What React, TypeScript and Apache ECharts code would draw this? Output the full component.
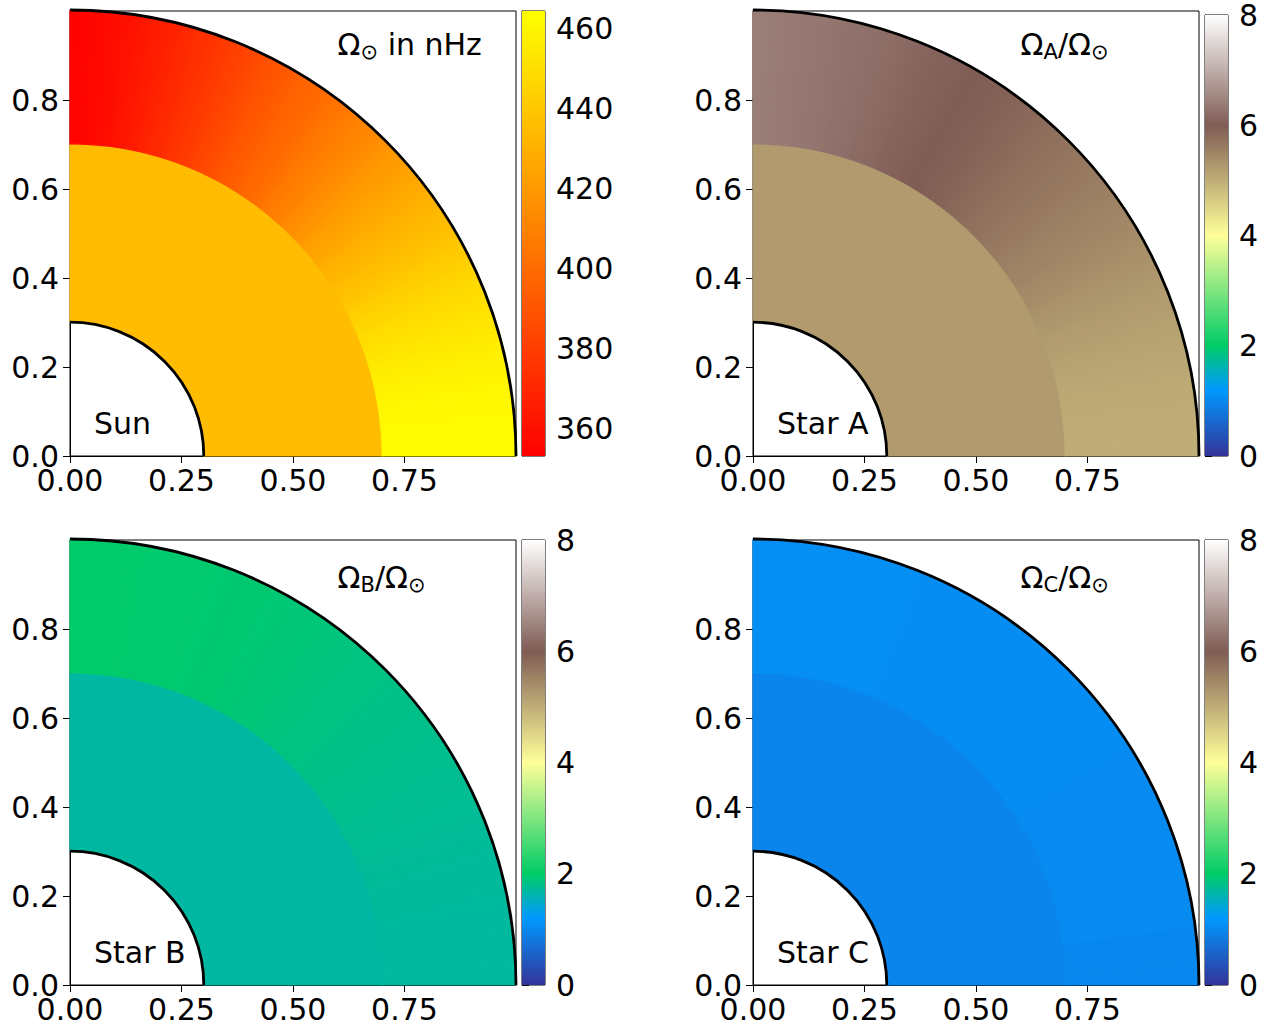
import React, { useEffect, useRef } from "react";
import * as echarts from "echarts";

// ---------- data ----------
const latitudes = [0, 5, 10, 15, 20, 25, 30, 35, 40, 45, 50, 55, 60, 65, 70, 75, 80, 85, 90];
const sunConvective = [463, 462, 460, 456, 451, 445, 438, 431, 424, 416, 408, 400, 393, 385, 377, 370, 363, 357, 354];
const starAConvective = [5.0, 5.02, 5.05, 5.12, 5.2, 5.3, 5.42, 5.52, 5.62, 5.72, 5.82, 5.92, 6.0, 6.08, 6.17, 6.25, 6.32, 6.38, 6.42];
const starBConvective = [1.7, 1.7, 1.71, 1.72, 1.74, 1.76, 1.78, 1.8, 1.82, 1.85, 1.87, 1.9, 1.92, 1.94, 1.95, 1.96, 1.97, 1.98, 1.98];
const starCConvective = [1.0, 1.0, 1.03, 1.03, 1.03, 1.03, 1.03, 1.06, 1.06, 1.06, 1.06, 1.06, 1.06, 1.06, 1.08, 1.08, 1.08, 1.08, 1.08];
const radiativeValues = [435, 5.24, 1.69, 0.96]; // Sun, A, B, C
const coreRadius = 0.3;
const tachoclineRadius = 0.7;
const surfaceRadius = 1.0;
const xTicks = [0, 0.25, 0.5, 0.75];
const yTicks = [0, 0.2, 0.4, 0.6, 0.8];
const sunBarTicks = [360, 380, 400, 420, 440, 460];
const starBarTicks = [0, 2, 4, 6, 8];
const sunRange = [353, 464.25];
const starRange = [0, 8];
const panelNames = ["Sun", "Star A", "Star B", "Star C"];

// ---------- colormaps ----------
type CmapDef = [number, number[]][];
const terrainDef: CmapDef = [
  [0.0, [0.2, 0.2, 0.6]],
  [0.15, [0.0, 0.6, 1.0]],
  [0.25, [0.0, 0.8, 0.4]],
  [0.5, [1.0, 1.0, 0.6]],
  [0.75, [0.5, 0.36, 0.33]],
  [1.0, [1.0, 1.0, 1.0]],
];
const autumnDef: CmapDef = [
  [0.0, [1, 0, 0]],
  [1.0, [1, 1, 0]],
];
function cmapAt(def: CmapDef, tRaw: number): string {
  const t = Math.max(0, Math.min(1, tRaw));
  let k = 0;
  while (k < def.length - 2 && t > def[k + 1][0]) k++;
  const [t0, c0] = def[k];
  const [t1, c1] = def[k + 1];
  const f = (t - t0) / (t1 - t0);
  const c = c0.map((v, j) => Math.round((v + (c1[j] - v) * f) * 255));
  return `rgb(${c[0]},${c[1]},${c[2]})`;
}
function sampleCmap(def: CmapDef, n: number): string[] {
  const out: string[] = [];
  for (let i = 0; i < n; i++) out.push(cmapAt(def, i / (n - 1)));
  return out;
}

const FONT = "DejaVu Sans";
const FS = 30;

const panelLayout = [
  { left: 70, top: 11, cbLeft: 522 },
  { left: 753, top: 11, cbLeft: 1205 },
  { left: 70, top: 540, cbLeft: 522 },
  { left: 753, top: 540, cbLeft: 1205 },
];
const smoothShading = [true, true, true, false];
const PW = 446;
const PH = 445;
const CBW = 23;

const titleTexts = [
  "{m|Ω}{s|⊙}{m| in nHz}",
  "{m|Ω}{s|A}{m|/Ω}{s|⊙}",
  "{m|Ω}{s|B}{m|/Ω}{s|⊙}",
  "{m|Ω}{s|C}{m|/Ω}{s|⊙}",
];
const richStyle = {
  m: { fontSize: FS, fontFamily: FONT, fontWeight: "normal", color: "#000", lineHeight: 36 },
  s: { fontSize: 21, fontFamily: FONT, fontWeight: "normal", color: "#000", lineHeight: 17, verticalAlign: "bottom" },
};

export default function App() {
  const ref = useRef<HTMLDivElement>(null);
  useEffect(() => {
    if (!ref.current) return;
    const chart = echarts.init(ref.current, null, { renderer: "svg" });
    const convective = [sunConvective, starAConvective, starBConvective, starCConvective];

    const grids: any[] = [];
    const xAxes: any[] = [];
    const yAxes: any[] = [];
    const series: any[] = [];
    const visualMaps: any[] = [];
    const titles: any[] = [];

    panelLayout.forEach((p, i) => {
      const isSun = i === 0;
      const range = isSun ? sunRange : starRange;
      const def = isSun ? autumnDef : terrainDef;
      const colors = sampleCmap(def, 81);
      const barTicks = isSun ? sunBarTicks : starBarTicks;
      const toColor = (v: number) => cmapAt(def, (v - range[0]) / (range[1] - range[0]));
      const gPanel = grids.length;
      grids.push({ left: p.left, top: p.top, width: PW, height: PH, show: true, borderColor: "#000", borderWidth: 1, backgroundColor: "transparent" });
      const gBar = grids.length;
      grids.push({ left: p.cbLeft, top: p.top, width: CBW, height: PH, show: true, borderColor: "#000", borderWidth: 1, backgroundColor: "transparent" });

      xAxes.push({
        gridIndex: gPanel, type: "value", min: 0, max: 1,
        axisLine: { show: true, lineStyle: { color: "#000", width: 1 } },
        axisTick: { show: true, length: 7, customValues: xTicks, lineStyle: { color: "#000", width: 1 } },
        axisLabel: { customValues: xTicks, formatter: (v: number) => v.toFixed(2), fontSize: FS, fontFamily: FONT, color: "#000", margin: 9 },
        splitLine: { show: false },
      });
      yAxes.push({
        gridIndex: gPanel, type: "value", min: 0, max: 1,
        axisLine: { show: true, lineStyle: { color: "#000", width: 1 } },
        axisTick: { show: true, length: 7, customValues: yTicks, lineStyle: { color: "#000", width: 1 } },
        axisLabel: { customValues: yTicks, formatter: (v: number) => v.toFixed(1), fontSize: FS, fontFamily: FONT, color: "#000", margin: 11 },
        splitLine: { show: false },
      });
      const xPanel = xAxes.length - 1;
      const yPanel = yAxes.length - 1;
      xAxes.push({ gridIndex: gBar, type: "value", min: 0, max: 1, show: false });
      yAxes.push({
        gridIndex: gBar, type: "value", min: range[0], max: range[1], position: "right",
        axisLine: { show: true, lineStyle: { color: "#000", width: 1 } },
        axisTick: { show: true, length: 7, customValues: barTicks, lineStyle: { color: "#000", width: 1 } },
        axisLabel: { customValues: barTicks, fontSize: FS, fontFamily: FONT, color: "#000", margin: 11 },
        splitLine: { show: false },
      });
      const xBar = xAxes.length - 1;
      const yBar = yAxes.length - 1;

      // zones data: [latLow, latHigh, rInner, rOuter, value, latCenter, valueAtLow, valueAtHigh]
      const vals = convective[i];
      const zoneData: number[][] = [[0, 90, coreRadius, tachoclineRadius, radiativeValues[i], 45, radiativeValues[i], radiativeValues[i]]];
      latitudes.forEach((lat, j) => {
        const lo = Math.max(0, lat - 2.5);
        const hi = Math.min(90, lat + 2.5);
        const vLo = smoothShading[i] && j > 0 ? (vals[j] + vals[j - 1]) / 2 : vals[j];
        const vHi = smoothShading[i] && j < vals.length - 1 ? (vals[j] + vals[j + 1]) / 2 : vals[j];
        zoneData.push([lo, hi, tachoclineRadius, surfaceRadius, vals[j], lat, vLo, vHi]);
      });
      const zoneIndex = series.length;
      series.push({
        type: "custom",
        xAxisIndex: xPanel,
        yAxisIndex: yPanel,
        data: zoneData,
        dimensions: ["a0", "a1", "r0", "r1", "v", "ac", "vlo", "vhi"],
        encode: { x: 2, y: 3 },
        renderItem: (params: any, api: any) => {
          const c = api.coord([0, 0]);
          const s = api.size([1, 1]);
          const color = api.visual("color");
          const lo = api.value(0);
          const hi = api.value(1);
          const a0 = (lo * Math.PI) / 180;
          const a1 = (hi * Math.PI) / 180;
          const r0 = api.value(2) * s[0];
          const r1 = api.value(3) * s[0];
          let fill: any = color;
          const vlo = api.value(6);
          const vhi = api.value(7);
          if (vlo !== api.value(4) || vhi !== api.value(4)) {
            const rm = (r0 + r1) / 2;
            const x0 = c[0] + rm * Math.cos(a0);
            const y0 = c[1] - rm * Math.sin(a0);
            const x1 = c[0] + rm * Math.cos(a1);
            const y1 = c[1] - rm * Math.sin(a1);
            const fc = (api.value(5) - lo) / (hi - lo);
            fill = new echarts.graphic.LinearGradient(
              x0, y0, x1, y1,
              [
                { offset: 0, color: toColor(vlo) },
                { offset: Math.max(0, Math.min(1, fc)), color },
                { offset: 1, color: toColor(vhi) },
              ],
              true
            );
          }
          return {
            type: "sector",
            shape: { cx: c[0], cy: c[1], r0, r: r1, startAngle: -a1, endAngle: -a0, clockwise: true },
            style: { fill, stroke: fill, lineWidth: 1.2 },
          };
        },
      });
      visualMaps.push({
        type: "continuous", show: false, min: range[0], max: range[1], dimension: 4,
        seriesIndex: zoneIndex, inRange: { color: colors },
      });
      // outline arcs
      series.push({
        type: "custom",
        xAxisIndex: xPanel,
        yAxisIndex: yPanel,
        data: [[coreRadius, 0], [surfaceRadius, 0]],
        z: 5,
        renderItem: (params: any, api: any) => {
          const c = api.coord([0, 0]);
          const s = api.size([1, 1]);
          return {
            type: "arc",
            shape: { cx: c[0], cy: c[1], r: api.value(0) * s[0], startAngle: -Math.PI / 2, endAngle: 0, clockwise: true },
            style: { stroke: "#000", fill: null, lineWidth: 2.8 },
          };
        },
      });
      // colorbar
      const stops = colors.map((col, k) => ({ offset: k / (colors.length - 1), color: col }));
      series.push({
        type: "custom",
        xAxisIndex: xBar,
        yAxisIndex: yBar,
        data: [[0, range[0], 1, range[1]]],
        renderItem: (params: any, api: any) => {
          const p0 = api.coord([api.value(0), api.value(1)]);
          const p1 = api.coord([api.value(2), api.value(3)]);
          return {
            type: "rect",
            shape: { x: p0[0], y: p1[1], width: p1[0] - p0[0], height: p0[1] - p1[1] },
            style: { fill: new echarts.graphic.LinearGradient(0, 1, 0, 0, stops) },
          };
        },
      });

      const centerTitleY = i < 2 ? p.top + 33 : p.top + 37;
      titles.push({
        text: titleTexts[i],
        left: p.left + 0.6 * PW,
        top: centerTitleY - 18,
        padding: 0,
        textStyle: { fontWeight: "normal", rich: richStyle },
      });
      titles.push({
        text: panelNames[i],
        left: p.left + 24,
        top: p.top + PH - 33 - 18,
        padding: 0,
        textStyle: { fontSize: FS, fontFamily: FONT, color: "#000", fontWeight: "normal", lineHeight: 36 },
      });
    });

    chart.setOption({
      animation: false,
      backgroundColor: "#fff",
      title: titles,
      grid: grids,
      xAxis: xAxes,
      yAxis: yAxes,
      visualMap: visualMaps,
      series,
    });
    return () => chart.dispose();
  }, []);
  return <div ref={ref} style={{ position: "absolute", left: 0, top: 0, width: 1276, height: 1029 }} />;
}
